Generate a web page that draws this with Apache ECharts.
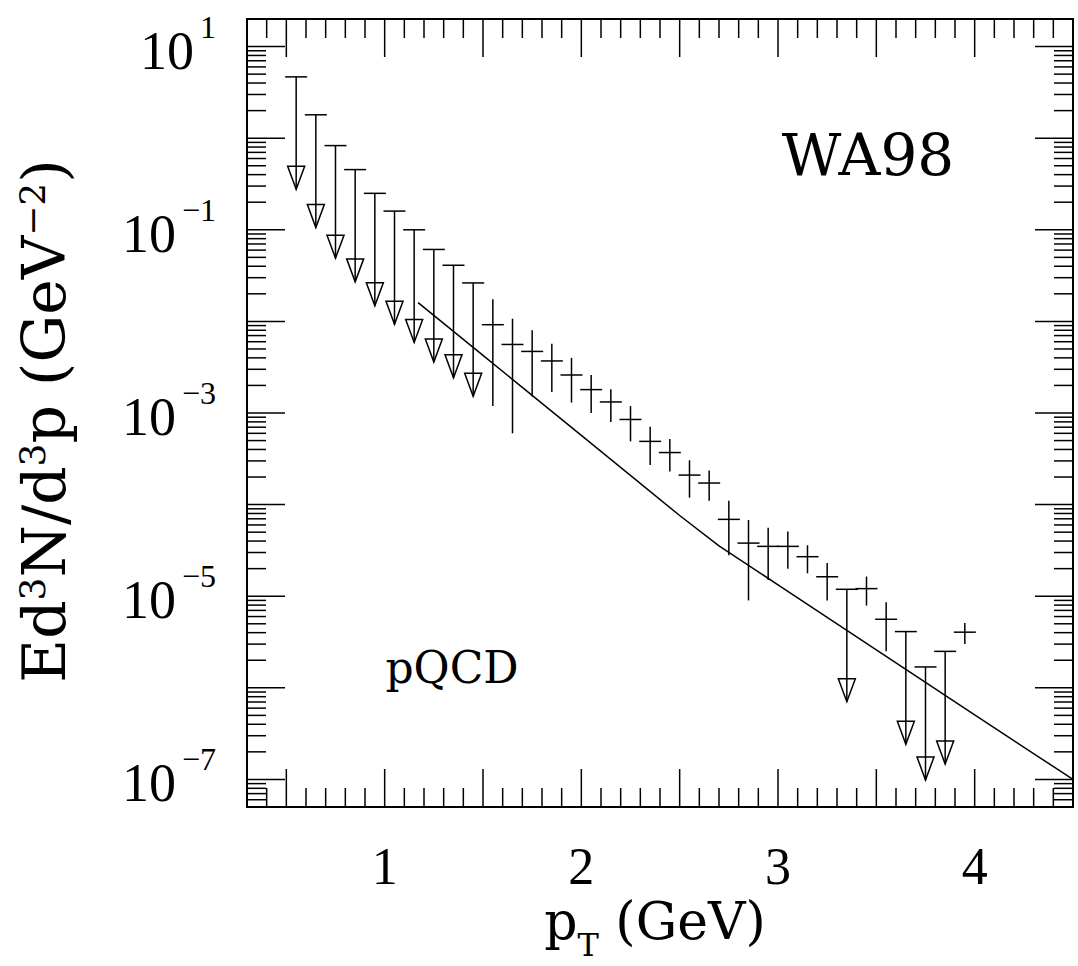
<!DOCTYPE html>
<html>
<head>
<meta charset="utf-8">
<title>WA98 photon spectrum</title>
<script src="https://cdn.jsdelivr.net/npm/echarts@6/dist/echarts.min.js"></script>
<style>
  html, body { margin: 0; padding: 0; background: #fff; }
  #main { width: 1078px; height: 966px; }
</style>
</head>
<body>
<div id="main"></div>
<script>
// upper limits: x, limit (cap) and where the arrow ends
var ulX   = [0.55, 0.65, 0.75, 0.85, 0.95, 1.05, 1.15, 1.25, 1.35, 1.45, 3.35, 3.65, 3.75, 3.85];
var ulTop = [4.67, 1.80, 0.83, 0.454, 0.25, 0.16, 0.10, 0.061, 0.041, 0.0263, 1.19e-5, 4.11e-6, 1.69e-6, 2.5e-6];
var ulEnd = [0.277, 0.106, 0.049, 0.027, 0.0148, 0.0093, 0.0059, 0.0036, 0.00242, 0.00152, 7.06e-7, 2.42e-7, 9.86e-8, 1.47e-7];

// measured points with error bars
var ptX  = [1.55, 1.65, 1.75, 1.85, 1.95, 2.05, 2.15, 2.25, 2.35, 2.45, 2.55, 2.65, 2.75, 2.85, 2.95, 3.05, 3.15, 3.25, 3.45, 3.55, 3.95];
var ptY  = [9.2e-3, 5.6e-3, 4.7e-3, 3.7e-3, 2.6e-3, 1.8e-3, 1.32e-3, 8.5e-4, 4.9e-4, 3.7e-4, 2.1e-4, 1.72e-4, 6.9e-5, 3.8e-5, 3.5e-5, 3.5e-5, 2.7e-5, 1.63e-5, 1.21e-5, 5.6e-6, 4.05e-6];
var ptLo = [1.19e-3, 6.0e-4, 1.51e-3, 1.69e-3, 1.30e-3, 1.0e-3, 8.0e-4, 4.9e-4, 2.7e-4, 2.3e-4, 1.19e-4, 1.10e-4, 2.8e-5, 9.0e-6, 1.5e-5, 2.0e-5, 1.78e-5, 9.0e-6, 7.9e-6, 2.5e-6, 3.0e-6];
var ptHi = [1.75e-2, 1.07e-2, 8.0e-3, 5.7e-3, 4.0e-3, 2.6e-3, 1.82e-3, 1.19e-3, 7.1e-4, 5.2e-4, 3.05e-4, 2.35e-4, 1.1e-4, 6.8e-5, 5.6e-5, 5.1e-5, 3.6e-5, 2.3e-5, 1.64e-5, 8.6e-6, 5.1e-6];

// pQCD curve
var qcdX = [1.17, 1.5, 2.0, 2.5, 2.7, 3.0, 3.5, 4.0, 4.5];
var qcdY = [1.6e-2, 4.25e-3, 5.69e-4, 7.6e-5, 3.55e-5, 1.33e-5, 2.59e-6, 5.06e-7, 1.0e-7];

// tick labels
var xLabels = [1, 2, 3, 4];
var yLabelExp = [1, -1, -3, -5, -7];

var xMin = 0.3, xMax = 4.5, yMin = 5e-8, yMax = 20;

// frame ticks
var xMajor = [], xMinor = [];
for (var i = 4; i <= 45; i++) {
  (i % 5 === 0 ? xMajor : xMinor).push(i / 10);
}
var yMajor = [], yMinor = [];
for (var e = -8; e <= 1; e++) {
  for (var m = 1; m <= 9; m++) {
    var v = m * Math.pow(10, e);
    if (v < yMin * 0.999 || v > yMax * 1.001) continue;
    (m === 1 ? yMajor : yMinor).push(v);
  }
}

var lw = 1.5;
var ink = { stroke: '#000', lineWidth: lw };
var serif = 'DejaVu Serif';

var chart = echarts.init(document.getElementById('main'), null, { renderer: 'svg' });

chart.setOption({
  animation: false,
  backgroundColor: '#fff',
  grid: { left: 247, right: 5, top: 19, bottom: 159, show: true, borderColor: '#000', borderWidth: 2 },
  xAxis: {
    type: 'value', min: xMin, max: xMax,
    axisLine: { show: false }, axisTick: { show: false }, splitLine: { show: false },
    axisLabel: {
      customValues: xLabels, margin: 43, lineHeight: 32,
      fontFamily: 'Liberation Serif', fontSize: 52, color: '#000'
    }
  },
  yAxis: {
    type: 'log', logBase: 10, min: yMin, max: yMax,
    axisLine: { show: false }, axisTick: { show: false }, splitLine: { show: false },
    axisLabel: { show: false }
  },
  series: [
    {
      // ticks on bottom and top
      type: 'custom', silent: true, clip: false,
      data: xMajor.map(function (x) { return [x, yMin, 38]; })
        .concat(xMinor.map(function (x) { return [x, yMin, 19]; })),
      encode: { x: 0, y: 1 },
      renderItem: function (params, api) {
        var b = api.coord([api.value(0), yMin]);
        var t = api.coord([api.value(0), yMax]);
        var len = api.value(2);
        return { type: 'group', children: [
          { type: 'line', shape: { x1: b[0], y1: b[1], x2: b[0], y2: b[1] - len }, style: ink },
          { type: 'line', shape: { x1: t[0], y1: t[1], x2: t[0], y2: t[1] + len }, style: ink }
        ] };
      }
    },
    {
      // ticks on left and right
      type: 'custom', silent: true, clip: false,
      data: yMajor.map(function (y) { return [xMin, y, 38]; })
        .concat(yMinor.map(function (y) { return [xMin, y, 19]; })),
      encode: { x: 0, y: 1 },
      renderItem: function (params, api) {
        var l = api.coord([xMin, api.value(1)]);
        var r = api.coord([xMax, api.value(1)]);
        var len = api.value(2);
        return { type: 'group', children: [
          { type: 'line', shape: { x1: l[0], y1: l[1], x2: l[0] + len, y2: l[1] }, style: ink },
          { type: 'line', shape: { x1: r[0], y1: r[1], x2: r[0] - len, y2: r[1] }, style: ink }
        ] };
      }
    },
    {
      // y tick labels 10^n
      type: 'custom', silent: true, clip: false,
      data: yLabelExp.map(function (n) { return [xMin, Math.pow(10, n), n]; }),
      encode: { x: 0, y: 1 },
      renderItem: function (params, api) {
        var p = api.coord([xMin, api.value(1)]);
        var n = api.value(2);
        var sup = n < 0 ? '\u2212' + (-n) : String(n);
        return {
          type: 'text', x: p[0] - 31, y: p[1] + 4,
          style: {
            text: '{a|10}{b|' + sup + '}',
            align: 'right', verticalAlign: 'middle',
            textAlign: 'right', textVerticalAlign: 'middle',
            fill: '#000',
            rich: {
              a: { fontFamily: 'Liberation Serif', fontSize: 54, lineHeight: 80, fill: '#000' },
              b: { fontFamily: 'Liberation Serif', fontSize: 32, lineHeight: 16, verticalAlign: 'top', padding: [0, 0, 0, 6], fill: '#000' }
            }
          }
        };
      }
    },
    {
      name: 'pQCD', type: 'line', silent: true,
      data: qcdX.map(function (x, k) { return [x, qcdY[k]]; }),
      showSymbol: false, symbol: 'none',
      lineStyle: { color: '#000', width: lw }
    },
    {
      // data points with error bars
      type: 'custom', silent: true,
      data: ptX.map(function (x, k) { return [x, ptY[k], ptLo[k], ptHi[k]]; }),
      encode: { x: 0, y: 1 },
      renderItem: function (params, api) {
        var x = api.value(0);
        var c = api.coord([x, api.value(1)]);
        var lo = api.coord([x, api.value(2)]);
        var hi = api.coord([x, api.value(3)]);
        return { type: 'group', children: [
          { type: 'line', shape: { x1: c[0], y1: lo[1], x2: c[0], y2: hi[1] }, style: ink },
          { type: 'line', shape: { x1: c[0] - 11, y1: c[1], x2: c[0] + 11, y2: c[1] }, style: ink }
        ] };
      }
    },
    {
      // upper limits with arrows
      type: 'custom', silent: true,
      data: ulX.map(function (x, k) { return [x, ulTop[k], ulEnd[k]]; }),
      encode: { x: 0, y: 1 },
      renderItem: function (params, api) {
        var x = api.value(0);
        var t = api.coord([x, api.value(1)]);
        var b = api.coord([x, api.value(2)]);
        return { type: 'group', children: [
          { type: 'line', shape: { x1: t[0] - 11, y1: t[1], x2: t[0] + 11, y2: t[1] }, style: ink },
          { type: 'line', shape: { x1: t[0], y1: t[1], x2: b[0], y2: b[1] }, style: ink },
          { type: 'polygon', shape: { points: [[b[0] - 8.5, b[1] - 23], [b[0] + 8.5, b[1] - 23], [b[0], b[1]]] },
            style: { fill: 'none', stroke: '#000', lineWidth: lw } }
        ] };
      }
    }
  ],
  graphic: [
    {
      type: 'text', x: 868, y: 155,
      style: { text: 'WA98', font: '58px "' + serif + '"', fill: '#000',
        align: 'center', verticalAlign: 'middle', textAlign: 'center', textVerticalAlign: 'middle' }
    },
    {
      type: 'text', x: 452, y: 667,
      style: { text: 'pQCD', font: '44px "' + serif + '"', fill: '#000',
        align: 'center', verticalAlign: 'middle', textAlign: 'center', textVerticalAlign: 'middle' }
    },
    {
      type: 'text', x: 655, y: 921,
      style: {
        text: '{a|p}{t|T}{a| (GeV)}', fill: '#000',
        align: 'center', verticalAlign: 'middle', textAlign: 'center', textVerticalAlign: 'middle',
        rich: {
          a: { fontFamily: serif, fontSize: 52, lineHeight: 80, fill: '#000' },
          t: { fontFamily: serif, fontSize: 32, lineHeight: 3, verticalAlign: 'bottom', fill: '#000' }
        }
      }
    },
    {
      type: 'text', x: 44, y: 421, rotation: Math.PI / 2,
      style: {
        text: '{a|Ed}{s|3}{a|N/d}{s|3}{a|p (GeV}{s|\u22122}{a|)}', fill: '#000',
        align: 'center', verticalAlign: 'middle', textAlign: 'center', textVerticalAlign: 'middle',
        rich: {
          a: { fontFamily: serif, fontSize: 60, lineHeight: 60, fill: '#000' },
          s: { fontFamily: serif, fontSize: 36, lineHeight: 32, verticalAlign: 'top', fill: '#000' }
        }
      }
    }
  ]
});
</script>
</body>
</html>
